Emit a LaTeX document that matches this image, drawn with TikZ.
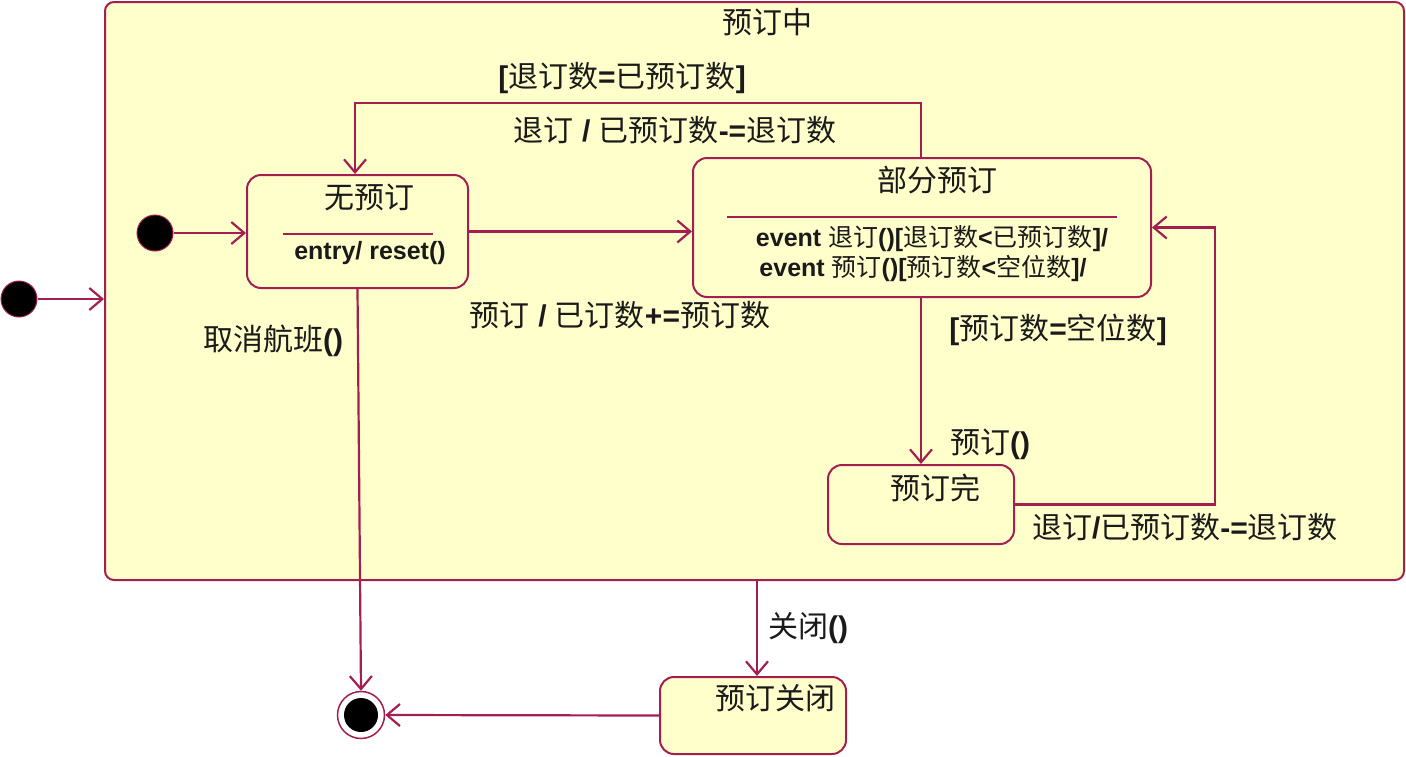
\documentclass[tikz,border=0pt]{standalone}
\usepackage{fontspec}
\setmainfont{Liberation Sans}
\newfontfamily\cjk{Noto Sans CJK SC}
\newcommand\zh[1]{{\cjk\mdseries #1}}
\usetikzlibrary{arrows.meta}
\definecolor{crim}{HTML}{A31F4F}
\definecolor{stfill}{HTML}{FFFFCC}
\definecolor{txt}{HTML}{1A1A1A}
\tikzset{
  stbox/.style={draw=crim, fill=stfill, line width=2pt, rounded corners=14pt, inner sep=0pt},
  conn/.style={draw=crim, line width=2.2pt, -{Straight Barb[length=13pt,width=22pt,line width=2.2pt]}},
  lbl/.style={font=\fontsize{30}{33}\selectfont\bfseries, text=txt, inner sep=0pt},
  small/.style={font=\fontsize{25}{28}\selectfont\bfseries, text=txt, inner sep=0pt},
  initdot/.style={circle, fill=black, draw=crim, line width=1pt, minimum size=36pt, inner sep=0pt},
  sep/.style={draw=crim, line width=1.8pt}
}
\begin{document}
\begin{tikzpicture}[x=1pt,y=-1pt]
\useasboundingbox (0,0) rectangle (1406,756);
% composite state
\node[stbox, rounded corners=9pt, minimum width=1299pt, minimum height=578pt] (outer) at (754.5,291) {};
\node[lbl] (outerT) at (767,22) {\zh{预订中}};
% helper x positions
\coordinate (x921) at (921,0);
\coordinate (x355) at (355,0);
\coordinate (x1215) at (1215,0);
\coordinate (x757) at (757,0);
\coordinate (y103) at (0,103);
% states
\node[stbox, minimum width=221pt, minimum height=113pt] (wy) at (357.5,231.5) {};
\node[lbl] (wyT) at (369,197) {\zh{无预订}};
\draw[sep] (283,234) -- (433,234);
\node[small] (wyE) at (370,253) {entry/ reset()};

\node[stbox, minimum width=458pt, minimum height=139pt] (bf) at (922,227.5) {};
\node[lbl] (bfT) at (937,180) {\zh{部分预订}};
\draw[sep] (727,217) -- (1117,217);
\node[small] (bfE1) at (932,239) {event \zh{退订}()[\zh{退订数}<\zh{已预订数}]/};
\node[small] (bfE2) at (923,268) {event \zh{预订}()[\zh{预订数}<\zh{空位数}]/};

\node[stbox, minimum width=186pt, minimum height=79pt] (yw) at (921,504.5) {};
\node[lbl] (ywT) at (935,488) {\zh{预订完}};

\node[stbox, minimum width=186pt, minimum height=77pt] (yg) at (753,715.5) {};
\node[lbl] (ygT) at (775,698) {\zh{预订关闭}};

% pseudo states
\node[initdot] (i0) at (19,299) {};
\node[initdot] (i1) at (155,233) {};
\node[circle, draw=crim, fill=white, line width=1.5pt, minimum size=47pt, inner sep=0pt] (fin) at (361,715) {};
\node[circle, fill=black, minimum size=34pt, inner sep=0pt] (finIn) at (fin) {};

% connectors
\draw[conn] (i0) -- (i0 -| outer.west);
\draw[conn] (i1) -- (i1 -| wy.west);
\draw[conn] (wy.east) -- (wy.east -| bf.west);
\draw[conn] (bf.north -| x921) -- (y103 -| x921) -- (y103 -| x355) -- (wy.north -| x355);
\draw[conn] (bf.south -| x921) -- (yw.north);
\draw[conn] (yw.east) -- (yw.east -| x1215) |- (bf.east);
\draw[conn] (wy.south) -- (fin.north);
\draw[conn] (outer.south -| x757) -- (yg.north -| x757);
\draw[conn] (yg.west) -- (fin.east);

% labels
\node[lbl] (l1) at (622,78) {[\zh{退订数}=\zh{已预订数}]};
\node[lbl] (l2) at (675,130) {\zh{退订} / \zh{已预订数}-=\zh{退订数}};
\node[lbl] (l3) at (620,315) {\zh{预订} / \zh{已订数}+=\zh{预订数}};
\node[lbl] (l4) at (273,341) {\zh{取消航班}()};
\node[lbl] (l5) at (1058,330) {[\zh{预订数}=\zh{空位数}]};
\node[lbl] (l6) at (990,444) {\zh{预订}()};
\node[lbl] (l7) at (1185,527) {\zh{退订}/\zh{已预订数}-=\zh{退订数}};
\node[lbl] (l8) at (808,628) {\zh{关闭}()};
\end{tikzpicture}
\end{document}
